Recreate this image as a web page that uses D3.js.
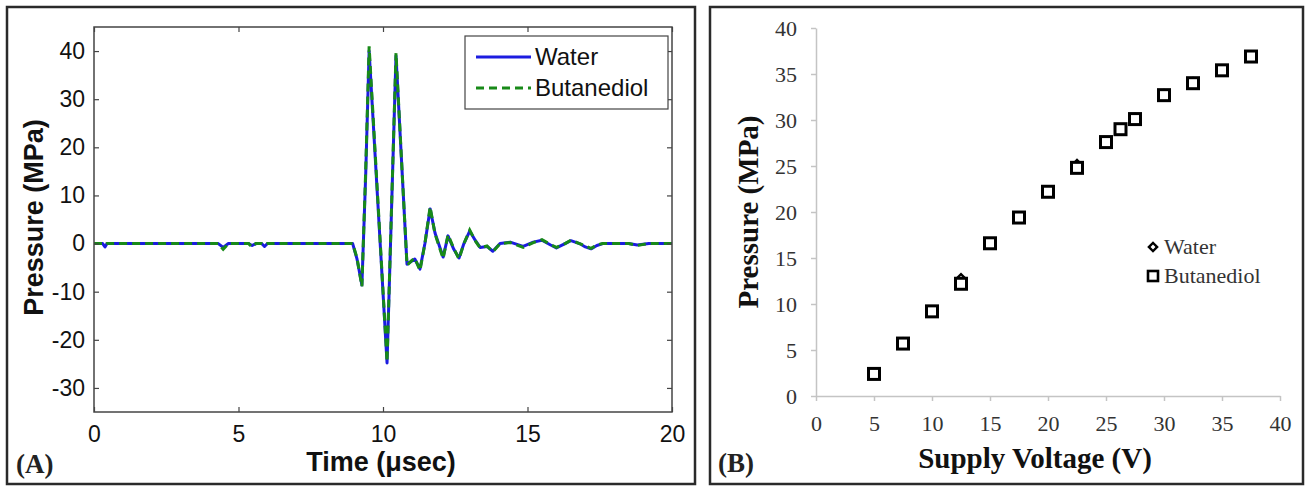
<!DOCTYPE html>
<html>
<head>
<meta charset="utf-8">
<script src="https://cdn.jsdelivr.net/npm/d3@7"></script>
<style>
  body { margin: 0; background: #fff; }
  svg { display: block; }
</style>
</head>
<body>
<svg width="1310" height="487"></svg>
<script>
// panel A: pressure waveform (time in usec, pressure in MPa)
const timeUs = [0, 0.3, 0.38, 0.45, 4.3, 4.47, 4.65, 5.35, 5.47, 5.6, 5.8, 5.9, 6.0, 8.95, 9.1, 9.27, 9.4, 9.52, 10.14, 10.45, 10.83, 11.0, 11.1, 11.28, 11.45, 11.63, 11.8, 12.08, 12.25, 12.45, 12.63, 12.8, 13.0, 13.2, 13.36, 13.6, 13.8, 14.05, 14.4, 14.85, 15.2, 15.5, 15.8, 16.0, 16.3, 16.5, 16.8, 17.0, 17.2, 17.4, 17.6, 18.5, 18.8, 19.2, 20];
const waterMPa = [0, 0, -0.7, 0, 0, -0.8, 0, 0, -0.4, 0, 0, -0.6, 0, 0, -3.2, -8.6, 14, 40, -24.8, 39, -4.3, -3.6, -3.2, -5.3, 0, 7.2, 2.2, -2.8, 1.6, -1.2, -3.0, 0, 2.6, 0.6, -0.8, -0.6, -1.6, 0, 0.3, -0.6, 0.3, 0.7, -0.3, -0.9, 0, 0.6, 0, -0.7, -1.1, -0.4, 0, 0, -0.3, 0, 0];
const butanediolMPa = [0, 0, -0.3, 0, 0, -1.2, 0, 0, -0.7, 0, 0, -0.3, 0, 0, -3, -8.9, 15, 41, -24.6, 39.6, -4.5, -3.5, -3, -5.6, 0, 7.6, 2, -3.1, 1.8, -1, -3.2, 0, 2.8, 0.5, -0.9, -0.5, -1.7, 0, 0.2, -0.8, 0.2, 0.8, -0.2, -0.8, 0, 0.7, 0, -0.5, -1, -0.3, 0, 0, -0.4, 0, 0];
const ticksA_x = [0, 5, 10, 15, 20];
const ticksA_y = [-30, -20, -10, 0, 10, 20, 30, 40];

// panel B: peak pressure vs supply voltage
const voltageV = [5, 7.5, 10, 12.5, 15, 17.5, 20, 22.5, 25, 26.25, 27.5, 30, 32.5, 35, 37.5];
const waterPeak = [2.5, 5.8, 9.2, 12.8, 16.6, 19.4, 22.3, 25.2, 27.6, 29.0, 30.2, 32.8, 34.1, 35.4, 36.9];
const butanediolPeak = [2.4, 5.7, 9.2, 12.2, 16.6, 19.4, 22.2, 24.8, 27.6, 29.0, 30.1, 32.7, 34.0, 35.4, 36.9];
const ticksB = [0, 5, 10, 15, 20, 25, 30, 35, 40];

const svg = d3.select('svg');
const sans = 'Liberation Sans, Arial, Helvetica, sans-serif';
const serif = 'Liberation Serif, Times New Roman, serif';
const blue = '#1c1ce0';
const green = '#188a18';

// panel frames
svg.append('rect').attr('x', 7).attr('y', 7).attr('width', 688).attr('height', 477)
    .attr('fill', 'none').attr('stroke', '#2a2a2a').attr('stroke-width', 2.5);
svg.append('rect').attr('x', 710).attr('y', 7).attr('width', 593).attr('height', 477)
    .attr('fill', 'none').attr('stroke', '#2a2a2a').attr('stroke-width', 2.5);

/* PANEL A */
const a = {l: 94, r: 672, t: 27, b: 412};
const xA = d3.scaleLinear().domain([0, 20]).range([a.l, a.r]);
const yA = d3.scaleLinear().domain([-35, 45]).range([a.b, a.t]);
const gA = svg.append('g');

svg.append('clipPath').attr('id', 'clipA')
    .append('rect').attr('x', a.l).attr('y', a.t).attr('width', a.r - a.l).attr('height', a.b - a.t);

const line = d3.line().x((d, i) => xA(timeUs[i])).y(d => yA(d));

gA.append('path').datum(waterMPa)
    .attr('d', line).attr('clip-path', 'url(#clipA)')
    .attr('fill', 'none').attr('stroke', blue).attr('stroke-width', 3)
    .attr('stroke-linejoin', 'round');
gA.append('path').datum(butanediolMPa)
    .attr('d', line).attr('clip-path', 'url(#clipA)')
    .attr('fill', 'none').attr('stroke', green).attr('stroke-width', 3)
    .attr('stroke-dasharray', '8,5');

// matlab style box with inward ticks on all sides
const styleAxis = g => {
    g.select('.domain').remove();
    g.selectAll('.tick line').attr('stroke', '#444').attr('stroke-width', 1.2);
    g.selectAll('.tick text').attr('font-family', sans).attr('font-size', 23).attr('fill', '#111');
};
const plain = d => String(d);
gA.append('g').attr('transform', `translate(0,${a.b})`)
    .call(d3.axisBottom(xA).tickValues(ticksA_x).tickFormat(plain).tickSizeInner(-5).tickSizeOuter(0).tickPadding(14))
    .call(styleAxis);
gA.append('g').attr('transform', `translate(0,${a.t})`)
    .call(d3.axisTop(xA).tickValues(ticksA_x).tickSizeInner(-5).tickSizeOuter(0).tickFormat(''))
    .call(styleAxis);
gA.append('g').attr('transform', `translate(${a.l},0)`)
    .call(d3.axisLeft(yA).tickValues(ticksA_y).tickFormat(plain).tickSizeInner(-5).tickSizeOuter(0).tickPadding(9))
    .call(styleAxis);
gA.append('g').attr('transform', `translate(${a.r},0)`)
    .call(d3.axisRight(yA).tickValues(ticksA_y).tickSizeInner(-5).tickSizeOuter(0).tickFormat(''))
    .call(styleAxis);
gA.append('rect').attr('x', a.l).attr('y', a.t).attr('width', a.r - a.l).attr('height', a.b - a.t)
    .attr('fill', 'none').attr('stroke', '#444').attr('stroke-width', 1.5);

gA.append('text').attr('x', (a.l + a.r) / 2 - 2).attr('y', 471)
    .attr('text-anchor', 'middle').attr('font-family', sans).attr('font-weight', 'bold')
    .attr('font-size', 27).attr('fill', '#111').text('Time (\u03bcsec)');
gA.append('text').attr('transform', `translate(43,${(a.t + a.b) / 2 - 2}) rotate(-90)`)
    .attr('text-anchor', 'middle').attr('font-family', sans).attr('font-weight', 'bold')
    .attr('font-size', 27).attr('fill', '#111').text('Pressure (MPa)');
gA.append('text').attr('x', 16).attr('y', 473)
    .attr('font-family', serif).attr('font-weight', 'bold').attr('font-size', 27)
    .attr('fill', '#222').text('(A)');

// legend A
const legA = gA.append('g');
legA.append('rect').attr('x', 465).attr('y', 36).attr('width', 203).attr('height', 73)
    .attr('fill', '#fff').attr('stroke', '#444').attr('stroke-width', 1.2);
[{name: 'Water', c: blue, dash: null, y: 57}, {name: 'Butanediol', c: green, dash: '8,5', y: 88}]
    .forEach(d => {
        legA.append('line').attr('x1', 476).attr('x2', 531).attr('y1', d.y).attr('y2', d.y)
            .attr('stroke', d.c).attr('stroke-width', 2.8).attr('stroke-dasharray', d.dash);
        legA.append('text').attr('x', 535).attr('y', d.y + 8)
            .attr('font-family', sans).attr('font-size', 24).attr('fill', '#111').text(d.name);
    });

/* PANEL B */
const b = {l: 816, r: 1280, t: 28, b: 396};
const xB = d3.scaleLinear().domain([0, 40]).range([b.l, b.r]);
const yB = d3.scaleLinear().domain([0, 40]).range([b.b, b.t]);
const gB = svg.append('g');

const styleAxisB = g => {
    g.select('.domain').attr('stroke', '#c4c4c4').attr('stroke-width', 1.5);
    g.selectAll('.tick line').attr('stroke', '#c4c4c4').attr('stroke-width', 1.5);
    g.selectAll('.tick text').attr('font-family', serif).attr('font-size', 22).attr('fill', '#333');
};
gB.append('g').attr('transform', `translate(0,${b.b})`)
    .call(d3.axisBottom(xB).tickValues(ticksB).tickSizeInner(5).tickSizeOuter(0).tickPadding(14))
    .call(styleAxisB);
gB.append('g').attr('transform', `translate(${b.l},0)`)
    .call(d3.axisLeft(yB).tickValues(ticksB).tickSizeInner(5).tickSizeOuter(0).tickPadding(14))
    .call(styleAxisB);

// open diamond = square turned 45 degrees
const diamond = d3.symbol().type(d3.symbolSquare).size(34);
gB.selectAll('.water').data(voltageV).join('path')
    .attr('class', 'water')
    .attr('transform', (d, i) => `translate(${xB(d)},${yB(waterPeak[i])}) rotate(45)`)
    .attr('d', diamond).attr('fill', '#fff').attr('stroke', '#000').attr('stroke-width', 2.4);
gB.selectAll('.buta').data(voltageV).join('rect')
    .attr('class', 'buta')
    .attr('x', d => xB(d) - 5.5).attr('y', (d, i) => yB(butanediolPeak[i]) - 5.5)
    .attr('width', 11).attr('height', 11)
    .attr('fill', '#fff').attr('stroke', '#000').attr('stroke-width', 3);

gB.append('text').attr('x', 1035).attr('y', 468)
    .attr('text-anchor', 'middle').attr('font-family', serif).attr('font-weight', 'bold')
    .attr('font-size', 29).attr('fill', '#111').text('Supply Voltage (V)');
gB.append('text').attr('transform', 'translate(758,212) rotate(-90)')
    .attr('text-anchor', 'middle').attr('font-family', serif).attr('font-weight', 'bold')
    .attr('font-size', 29).attr('fill', '#111').text('Pressure (MPa)');
gB.append('text').attr('x', 718).attr('y', 472)
    .attr('font-family', serif).attr('font-weight', 'bold').attr('font-size', 27)
    .attr('fill', '#222').text('(B)');

// legend B
gB.append('path').attr('transform', 'translate(1153,247) rotate(45)').attr('d', diamond)
    .attr('fill', '#fff').attr('stroke', '#000').attr('stroke-width', 2.4);
gB.append('rect').attr('x', 1148).attr('y', 271).attr('width', 10).attr('height', 10)
    .attr('fill', '#fff').attr('stroke', '#000').attr('stroke-width', 2.6);
gB.append('text').attr('x', 1164).attr('y', 254).attr('font-family', serif)
    .attr('font-size', 22).attr('fill', '#333').text('Water');
gB.append('text').attr('x', 1164).attr('y', 283).attr('font-family', serif)
    .attr('font-size', 22).attr('fill', '#333').text('Butanediol');
</script>
</body>
</html>
